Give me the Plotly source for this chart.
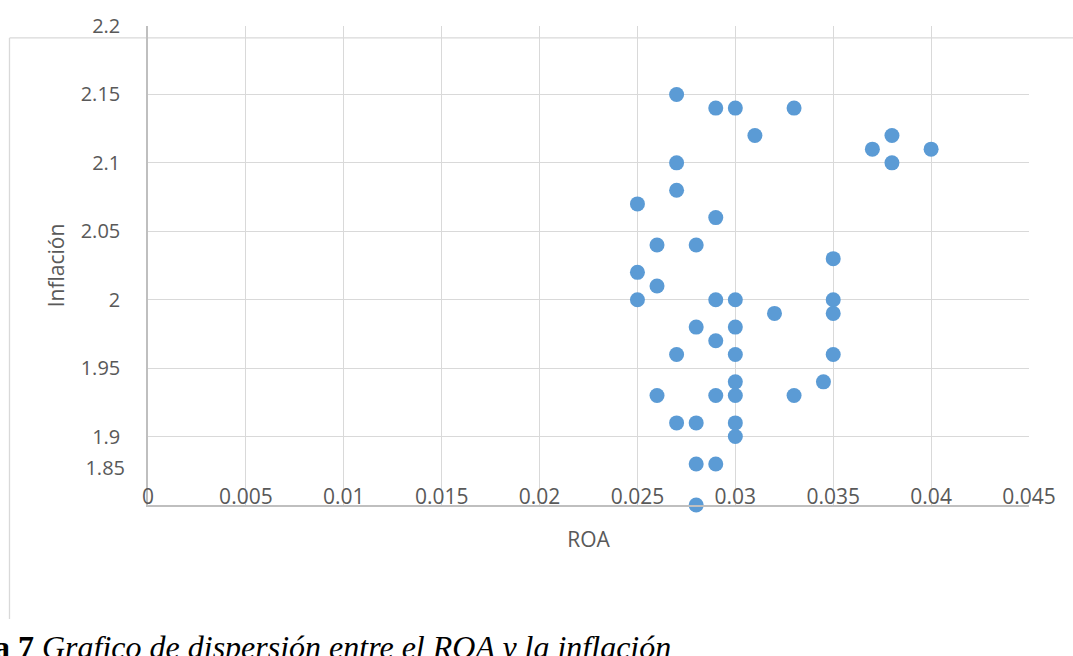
import plotly.graph_objects as go

roa = [0.027, 0.029, 0.030, 0.033, 0.031, 0.038, 0.037, 0.040, 0.038, 0.027,
       0.027, 0.025, 0.029, 0.026, 0.028, 0.035, 0.025, 0.026, 0.025, 0.029,
       0.030, 0.035, 0.032, 0.035, 0.028, 0.030, 0.029, 0.027, 0.030, 0.035,
       0.030, 0.0345, 0.026, 0.029, 0.030, 0.033, 0.027, 0.028, 0.030, 0.030,
       0.028, 0.029, 0.028]
inflacion = [2.15, 2.14, 2.14, 2.14, 2.12, 2.12, 2.11, 2.11, 2.10, 2.10,
             2.08, 2.07, 2.06, 2.04, 2.04, 2.03, 2.02, 2.01, 2.00, 2.00,
             2.00, 2.00, 1.99, 1.99, 1.98, 1.98, 1.97, 1.96, 1.96, 1.96,
             1.94, 1.94, 1.93, 1.93, 1.93, 1.93, 1.91, 1.91, 1.91, 1.90,
             1.88, 1.88, 1.85]

x_ticks = [0, 0.005, 0.01, 0.015, 0.02, 0.025, 0.03, 0.035, 0.04, 0.045]
x_tick_text = ["0", "0.005", "0.01", "0.015", "0.02", "0.025", "0.03", "0.035", "0.04", "0.045"]
y_ticks = [1.9, 1.95, 2.0, 2.05, 2.1, 2.15, 2.2]
y_tick_text = ["1.9", "1.95", "2", "2.05", "2.1", "2.15", "2.2"]
y_extra_tick = [1.877]
y_extra_text = ["1.85"]

W, H = 1073, 656
L, R, T, B = 148, 1029, 24, 505.5

FONT = "Open Sans"
TXT = "#595959"

fig = go.Figure()
fig.add_trace(go.Scatter(
    x=roa, y=inflacion, mode="markers",
    marker=dict(size=15, color="#5b9bd5", line=dict(width=0)),
    cliponaxis=False, showlegend=False,
))

fig.update_layout(
    width=W, height=H,
    margin=dict(l=L, r=W - R, t=T, b=H - B, pad=0),
    paper_bgcolor="white", plot_bgcolor="white",
    font=dict(family=FONT, color=TXT, size=20),
    xaxis=dict(
        range=[0, 0.045], tickvals=x_ticks, ticktext=x_tick_text,
        showgrid=True, gridcolor="#d9d9d9", gridwidth=1.3,
        showline=True, linecolor="#bfbfbf", linewidth=1.5,
        ticks="", ticklabelposition="outside", ticklabelstandoff=-28,
        tickfont=dict(size=21, color=TXT),
        zeroline=False,
        title=dict(text="ROA", font=dict(size=21, color=TXT), standoff=23),
    ),
    yaxis=dict(
        range=[1.85, 2.2], tickvals=y_ticks, ticktext=y_tick_text,
        showgrid=True, gridcolor="#d9d9d9", gridwidth=1.3,
        showline=True, linecolor="#bfbfbf", linewidth=1.5,
        ticks="", ticklabelstandoff=22,
        tickfont=dict(size=20, color=TXT),
        zeroline=False,
        title=dict(text="Inflación", font=dict(size=21, color=TXT), standoff=10),
    ),
    yaxis2=dict(
        range=[1.85, 2.2], overlaying="y", side="left",
        tickvals=y_extra_tick, ticktext=y_extra_text,
        showgrid=False, showline=False, zeroline=False,
        ticks="", ticklabelstandoff=22,
        tickfont=dict(size=20, color=TXT),
    ),
)

fig.add_trace(go.Scatter(x=[None], y=[None], yaxis="y2", showlegend=False, hoverinfo="skip"))

def px_x(p):
    return (p - L) / (R - L)

def px_y(p):
    return (B - p) / (B - T)

# outer chart frame (partially visible)
fig.add_shape(type="line", xref="paper", yref="paper",
              x0=px_x(9.5), x1=px_x(9.5), y0=px_y(36), y1=px_y(620),
              line=dict(color="#d9d9d9", width=1.3))
fig.add_shape(type="line", xref="paper", yref="paper",
              x0=px_x(9.5), x1=px_x(1080), y0=px_y(36), y1=px_y(36),
              line=dict(color="#d9d9d9", width=1.3), layer="below")

fig.add_annotation(
    xref="paper", yref="paper", x=px_x(-8), y=px_y(668),
    xanchor="left", yanchor="bottom", showarrow=False,
    text="<b>a 7</b> <i>Grafico de dispersión entre el ROA y la inflación</i>",
    font=dict(family="Liberation Serif", size=32, color="black"),
)

fig.write_html("out.html")
